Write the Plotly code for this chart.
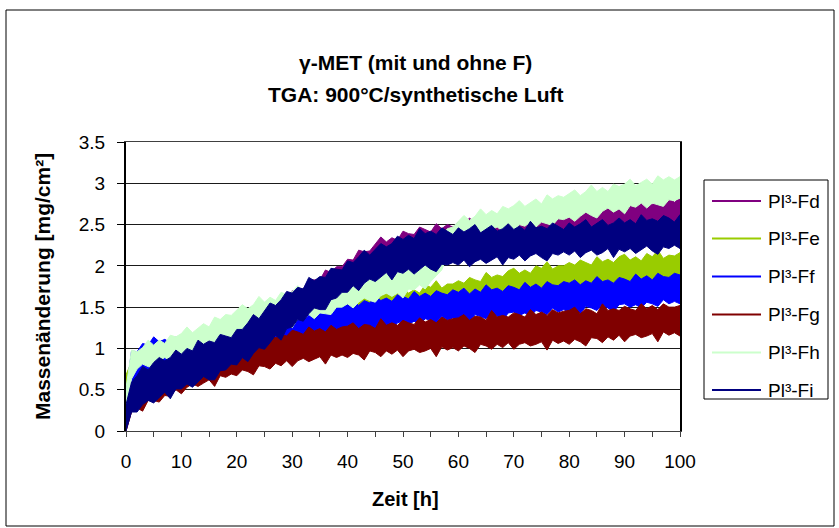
import plotly.graph_objects as go

# Time axis (hours) shared by all samples
TIME = list(range(0, 101))

SERIES = ["Pl³-Fd", "Pl³-Fe", "Pl³-Ff", "Pl³-Fg", "Pl³-Fh", "Pl³-Fi"]
COLORS = ["#800080", "#99CC00", "#0000FF", "#800000", "#CCFFCC", "#000080"]

Y_TICKS = [0, 0.5, 1, 1.5, 2, 2.5, 3, 3.5]
X_TICKS = [0, 10, 20, 30, 40, 50, 60, 70, 80, 90, 100]

# Lower / upper envelope of the noisy TGA signal, mass change in mg/cm², one value per hour
FD_LO = [0.00, 0.24, 0.31, 0.33, 0.38, 0.40, 0.44, 0.45, 0.50, 0.51, 0.56,
         0.57, 0.60, 0.63, 0.66, 0.67, 0.71, 0.73, 0.75, 0.79, 0.82,
         0.86, 0.91, 0.95, 1.00, 1.05, 1.10, 1.14, 1.20, 1.24, 1.30,
         1.33, 1.37, 1.42, 1.45, 1.50, 1.53, 1.58, 1.61, 1.66, 1.70,
         1.72, 1.76, 1.79, 1.82, 1.85, 1.88, 1.90, 1.94, 1.97, 2.00,
         2.01, 2.02, 2.04, 2.05, 2.06, 2.08, 2.09, 2.10, 2.11, 2.12,
         2.13, 2.14, 2.15, 2.16, 2.17, 2.18, 2.19, 2.20, 2.21, 2.22,
         2.23, 2.24, 2.25, 2.26, 2.27, 2.28, 2.29, 2.30, 2.31, 2.32,
         2.32, 2.33, 2.34, 2.35, 2.36, 2.37, 2.37, 2.38, 2.39, 2.40,
         2.41, 2.41, 2.42, 2.43, 2.44, 2.44, 2.45, 2.45, 2.46, 2.45]
FD_HI = [0.28, 0.58, 0.70, 0.69, 0.70, 0.79, 0.87, 0.82, 0.87, 0.84, 0.95,
         0.94, 0.94, 1.04, 1.03, 1.02, 1.13, 1.09, 1.15, 1.13, 1.21,
         1.21, 1.34, 1.32, 1.34, 1.44, 1.54, 1.51, 1.57, 1.57, 1.70,
         1.70, 1.72, 1.83, 1.83, 1.83, 1.95, 1.92, 1.99, 1.99, 2.08,
         2.07, 2.19, 2.17, 2.18, 2.27, 2.35, 2.29, 2.34, 2.31, 2.42,
         2.39, 2.38, 2.47, 2.44, 2.41, 2.51, 2.45, 2.50, 2.47, 2.53,
         2.49, 2.58, 2.52, 2.50, 2.56, 2.62, 2.55, 2.57, 2.53, 2.62,
         2.59, 2.58, 2.65, 2.62, 2.59, 2.69, 2.63, 2.66, 2.63, 2.69,
         2.65, 2.73, 2.68, 2.66, 2.72, 2.77, 2.70, 2.73, 2.68, 2.77,
         2.74, 2.72, 2.80, 2.77, 2.74, 2.83, 2.77, 2.81, 2.77, 2.83]

FE_LO = [0.30, 0.45, 0.46, 0.55, 0.55, 0.53, 0.61, 0.62, 0.61, 0.68, 0.66,
         0.64, 0.73, 0.74, 0.73, 0.80, 0.79, 0.78, 0.84, 0.87, 0.86,
         0.90, 0.88, 0.96, 0.95, 0.93, 1.01, 1.02, 1.01, 1.08, 1.06,
         1.04, 1.13, 1.14, 1.13, 1.20, 1.19, 1.18, 1.24, 1.27, 1.26,
         1.29, 1.26, 1.33, 1.31, 1.28, 1.35, 1.35, 1.33, 1.39, 1.36,
         1.33, 1.41, 1.41, 1.39, 1.45, 1.43, 1.41, 1.46, 1.48, 1.46,
         1.49, 1.46, 1.53, 1.51, 1.48, 1.55, 1.55, 1.53, 1.59, 1.56,
         1.53, 1.61, 1.61, 1.59, 1.65, 1.63, 1.61, 1.66, 1.68, 1.66,
         1.68, 1.65, 1.72, 1.69, 1.66, 1.73, 1.72, 1.70, 1.76, 1.72,
         1.69, 1.77, 1.76, 1.74, 1.80, 1.77, 1.75, 1.80, 1.81, 1.79]
FE_HI = [0.68, 0.84, 0.90, 0.87, 0.85, 0.97, 0.92, 0.96, 0.94, 1.02, 1.06,
         1.01, 1.06, 1.03, 1.13, 1.11, 1.20, 1.12, 1.17, 1.18, 1.23,
         1.21, 1.29, 1.27, 1.25, 1.37, 1.32, 1.36, 1.34, 1.42, 1.46,
         1.41, 1.46, 1.43, 1.53, 1.51, 1.60, 1.52, 1.56, 1.56, 1.60,
         1.57, 1.64, 1.61, 1.58, 1.69, 1.63, 1.66, 1.63, 1.70, 1.73,
         1.67, 1.71, 1.67, 1.77, 1.74, 1.82, 1.73, 1.78, 1.78, 1.82,
         1.79, 1.86, 1.83, 1.81, 1.92, 1.86, 1.89, 1.87, 1.94, 1.97,
         1.91, 1.95, 1.91, 2.00, 1.97, 2.05, 1.96, 2.00, 2.00, 2.04,
         2.01, 2.07, 2.04, 2.01, 2.11, 2.05, 2.08, 2.04, 2.11, 2.14,
         2.07, 2.11, 2.06, 2.15, 2.11, 2.19, 2.09, 2.13, 2.12, 2.16]

FF_LO = [0.10, 0.56, 0.56, 0.68, 0.69, 0.67, 0.76, 0.73, 0.70, 0.80, 0.83,
         0.79, 0.83, 0.79, 0.87, 0.85, 0.83, 0.91, 0.87, 0.90, 0.88,
         0.94, 0.89, 0.99, 0.99, 0.97, 1.06, 1.03, 1.00, 1.10, 1.13,
         1.09, 1.13, 1.09, 1.17, 1.15, 1.13, 1.21, 1.17, 1.20, 1.18,
         1.23, 1.17, 1.26, 1.25, 1.22, 1.30, 1.26, 1.22, 1.31, 1.33,
         1.29, 1.33, 1.28, 1.36, 1.34, 1.31, 1.39, 1.34, 1.37, 1.34,
         1.39, 1.32, 1.41, 1.39, 1.36, 1.43, 1.39, 1.34, 1.43, 1.44,
         1.40, 1.43, 1.39, 1.46, 1.44, 1.41, 1.49, 1.44, 1.47, 1.44,
         1.49, 1.42, 1.51, 1.49, 1.46, 1.53, 1.49, 1.44, 1.53, 1.54,
         1.50, 1.53, 1.49, 1.56, 1.54, 1.51, 1.59, 1.54, 1.57, 1.54]
FF_HI = [0.46, 0.97, 0.96, 1.06, 1.04, 1.14, 1.08, 1.11, 1.07, 1.14, 1.11,
         1.08, 1.17, 1.11, 1.15, 1.10, 1.18, 1.14, 1.13, 1.18, 1.16,
         1.22, 1.17, 1.24, 1.22, 1.32, 1.27, 1.31, 1.28, 1.37, 1.37,
         1.36, 1.46, 1.42, 1.47, 1.43, 1.52, 1.49, 1.49, 1.55, 1.53,
         1.58, 1.52, 1.58, 1.55, 1.64, 1.58, 1.61, 1.57, 1.65, 1.63,
         1.60, 1.69, 1.63, 1.67, 1.63, 1.70, 1.67, 1.65, 1.71, 1.68,
         1.73, 1.66, 1.72, 1.68, 1.77, 1.71, 1.73, 1.69, 1.76, 1.74,
         1.71, 1.80, 1.74, 1.78, 1.73, 1.81, 1.77, 1.76, 1.81, 1.79,
         1.83, 1.77, 1.82, 1.79, 1.87, 1.81, 1.83, 1.79, 1.86, 1.84,
         1.81, 1.90, 1.84, 1.88, 1.83, 1.91, 1.87, 1.86, 1.91, 1.89]

FG_LO = [0.00, 0.23, 0.28, 0.24, 0.37, 0.37, 0.35, 0.43, 0.42, 0.50, 0.45,
         0.53, 0.57, 0.54, 0.58, 0.62, 0.54, 0.67, 0.65, 0.69, 0.67,
         0.74, 0.72, 0.68, 0.79, 0.78, 0.75, 0.82, 0.79, 0.85, 0.78,
         0.85, 0.88, 0.84, 0.87, 0.90, 0.81, 0.92, 0.89, 0.92, 0.89,
         0.94, 0.92, 0.86, 0.97, 0.95, 0.90, 0.97, 0.93, 0.98, 0.90,
         0.97, 0.99, 0.95, 0.97, 1.00, 0.90, 1.02, 0.98, 1.01, 0.97,
         1.03, 1.00, 0.95, 1.05, 1.03, 0.99, 1.05, 1.01, 1.07, 0.99,
         1.05, 1.07, 1.03, 1.05, 1.08, 0.98, 1.10, 1.06, 1.09, 1.05,
         1.11, 1.08, 1.03, 1.13, 1.12, 1.07, 1.14, 1.10, 1.16, 1.08,
         1.15, 1.17, 1.13, 1.15, 1.18, 1.08, 1.20, 1.16, 1.19, 1.15]
FG_HI = [0.27, 0.56, 0.54, 0.63, 0.64, 0.63, 0.77, 0.72, 0.77, 0.77, 0.85,
         0.84, 0.83, 0.93, 0.89, 0.94, 0.91, 1.00, 0.97, 1.01, 1.03,
         1.09, 1.03, 1.10, 1.10, 1.07, 1.20, 1.13, 1.17, 1.15, 1.22,
         1.20, 1.17, 1.26, 1.21, 1.24, 1.20, 1.28, 1.23, 1.26, 1.27,
         1.31, 1.24, 1.29, 1.28, 1.24, 1.36, 1.28, 1.31, 1.28, 1.34,
         1.31, 1.29, 1.37, 1.32, 1.35, 1.31, 1.38, 1.34, 1.36, 1.37,
         1.41, 1.34, 1.39, 1.38, 1.34, 1.46, 1.38, 1.40, 1.38, 1.43,
         1.41, 1.38, 1.47, 1.41, 1.44, 1.40, 1.47, 1.43, 1.45, 1.46,
         1.50, 1.42, 1.48, 1.46, 1.42, 1.54, 1.46, 1.48, 1.46, 1.51,
         1.48, 1.46, 1.54, 1.48, 1.52, 1.47, 1.54, 1.50, 1.50, 1.52]

FH_LO = [0.25, 0.63, 0.75, 0.81, 0.78, 0.76, 0.85, 0.89, 0.85, 0.90, 0.85,
         0.96, 0.95, 1.01, 0.96, 1.03, 1.02, 1.01, 1.10, 1.10, 1.14,
         1.09, 1.16, 1.21, 1.18, 1.16, 1.25, 1.29, 1.25, 1.30, 1.25,
         1.36, 1.35, 1.41, 1.36, 1.43, 1.42, 1.41, 1.50, 1.50, 1.54,
         1.49, 1.56, 1.61, 1.58, 1.56, 1.64, 1.67, 1.63, 1.67, 1.61,
         1.72, 1.71, 1.77, 1.72, 1.81, 1.88, 1.95, 2.12, 2.20, 2.30,
         2.28, 2.37, 2.42, 2.38, 2.36, 2.44, 2.47, 2.42, 2.46, 2.40,
         2.50, 2.48, 2.53, 2.47, 2.53, 2.51, 2.49, 2.57, 2.56, 2.59,
         2.54, 2.60, 2.65, 2.61, 2.58, 2.66, 2.70, 2.65, 2.69, 2.63,
         2.73, 2.71, 2.76, 2.70, 2.76, 2.74, 2.72, 2.80, 2.79, 2.82]
FH_HI = [0.52, 0.98, 0.96, 1.01, 1.10, 1.04, 1.10, 1.06, 1.16, 1.14, 1.18,
         1.26, 1.19, 1.25, 1.30, 1.26, 1.38, 1.35, 1.41, 1.40, 1.46,
         1.53, 1.48, 1.53, 1.63, 1.56, 1.62, 1.58, 1.68, 1.65, 1.69,
         1.76, 1.69, 1.74, 1.79, 1.74, 1.85, 1.81, 1.86, 1.84, 1.89,
         1.95, 1.89, 1.94, 2.03, 1.96, 2.01, 1.96, 2.06, 2.02, 2.05,
         2.12, 2.05, 2.11, 2.16, 2.13, 2.31, 2.35, 2.45, 2.47, 2.54,
         2.61, 2.55, 2.60, 2.69, 2.62, 2.67, 2.63, 2.72, 2.69, 2.73,
         2.79, 2.72, 2.76, 2.81, 2.75, 2.86, 2.81, 2.85, 2.83, 2.87,
         2.92, 2.85, 2.90, 2.98, 2.90, 2.95, 2.90, 2.99, 2.96, 2.99,
         3.05, 2.97, 3.01, 3.05, 2.99, 3.09, 3.04, 3.08, 3.04, 3.08]

FI_LO = [0.00, 0.23, 0.23, 0.32, 0.37, 0.34, 0.40, 0.47, 0.39, 0.51, 0.51,
         0.57, 0.53, 0.60, 0.66, 0.62, 0.62, 0.73, 0.74, 0.81, 0.80,
         0.89, 0.84, 0.94, 1.01, 0.99, 1.07, 1.16, 1.10, 1.24, 1.26,
         1.35, 1.33, 1.42, 1.49, 1.47, 1.47, 1.59, 1.61, 1.68, 1.68,
         1.76, 1.70, 1.79, 1.84, 1.81, 1.86, 1.92, 1.83, 1.93, 1.91,
         1.96, 1.90, 1.96, 2.01, 1.96, 1.93, 2.02, 2.01, 2.04, 2.01,
         2.07, 1.99, 2.05, 2.08, 2.03, 2.07, 2.11, 2.01, 2.10, 2.08,
         2.13, 2.06, 2.12, 2.15, 2.10, 2.06, 2.15, 2.13, 2.17, 2.13,
         2.18, 2.10, 2.16, 2.19, 2.13, 2.16, 2.21, 2.10, 2.20, 2.17,
         2.21, 2.15, 2.20, 2.24, 2.18, 2.14, 2.23, 2.21, 2.25, 2.21]
FI_HI = [0.32, 0.59, 0.67, 0.78, 0.74, 0.83, 0.89, 0.85, 0.89, 0.98, 0.93,
         1.00, 0.97, 1.10, 1.05, 1.09, 1.07, 1.17, 1.15, 1.13, 1.23,
         1.23, 1.31, 1.41, 1.36, 1.46, 1.55, 1.52, 1.59, 1.69, 1.67,
         1.74, 1.72, 1.86, 1.82, 1.87, 1.86, 1.97, 1.96, 1.95, 2.06,
         2.04, 2.11, 2.19, 2.13, 2.20, 2.27, 2.23, 2.27, 2.36, 2.32,
         2.37, 2.33, 2.45, 2.39, 2.42, 2.38, 2.46, 2.42, 2.38, 2.46,
         2.41, 2.45, 2.50, 2.40, 2.45, 2.49, 2.42, 2.45, 2.51, 2.44,
         2.48, 2.43, 2.54, 2.46, 2.48, 2.45, 2.52, 2.48, 2.44, 2.52,
         2.47, 2.51, 2.56, 2.47, 2.51, 2.56, 2.49, 2.52, 2.58, 2.52,
         2.56, 2.51, 2.62, 2.55, 2.57, 2.54, 2.61, 2.58, 2.53, 2.62]

LOWER = [FD_LO, FE_LO, FF_LO, FG_LO, FH_LO, FI_LO]
UPPER = [FD_HI, FE_HI, FF_HI, FG_HI, FH_HI, FI_HI]

FONT = "Liberation Sans, Arial, sans-serif"

# Figure geometry in pixels
W, H = 839, 528
PL, PR, PT, PB = 126, 680, 142, 431


def fx(p):
    return (p - PL) / (PR - PL)


def fy(p):
    return (PB - p) / (PB - PT)


fig = go.Figure()

# Each measurement is drawn as the band its noisy signal fills
for name, color, lo, hi in zip(SERIES, COLORS, LOWER, UPPER):
    fig.add_trace(go.Scatter(
        x=TIME + TIME[::-1],
        y=hi + lo[::-1],
        mode="lines",
        fill="toself",
        fillcolor=color,
        line=dict(color=color, width=1),
        name=name,
        showlegend=False,
        hoverinfo="skip",
    ))

shapes = []
annotations = []

# outer chart frame
shapes.append(dict(type="rect", xref="paper", yref="paper",
                   x0=fx(6), x1=fx(834), y0=fy(526), y1=fy(10),
                   line=dict(color="#000000", width=1), fillcolor="rgba(0,0,0,0)",
                   layer="below"))

# legend box
shapes.append(dict(type="rect", xref="paper", yref="paper",
                   x0=fx(704), x1=fx(828), y0=fy(399), y1=fy(180),
                   line=dict(color="#000000", width=1), fillcolor="#FFFFFF"))
legend_rows = [201, 238.5, 276.5, 314.5, 352.5, 390]
for name, color, ry in zip(SERIES, COLORS, legend_rows):
    shapes.append(dict(type="line", xref="paper", yref="paper",
                       x0=fx(712), x1=fx(761), y0=fy(ry), y1=fy(ry),
                       line=dict(color=color, width=2)))
    annotations.append(dict(xref="paper", yref="paper", x=fx(766), y=fy(ry),
                            text=name, showarrow=False, xanchor="left", yanchor="middle",
                            font=dict(family=FONT, size=19, color="#000000")))

# chart title
annotations.append(dict(xref="paper", yref="paper", x=fx(415), y=fy(62),
                        text="<b>γ-MET (mit und ohne F)</b>", showarrow=False,
                        xanchor="center", yanchor="middle",
                        font=dict(family=FONT, size=21, color="#000000")))
annotations.append(dict(xref="paper", yref="paper", x=fx(415), y=fy(95),
                        text="<b>TGA: 900°C/synthetische Luft</b>", showarrow=False,
                        xanchor="center", yanchor="middle",
                        font=dict(family=FONT, size=21, color="#000000")))

# axis titles
annotations.append(dict(xref="paper", yref="paper", x=fx(405), y=fy(499),
                        text="<b>Zeit [h]</b>", showarrow=False,
                        xanchor="center", yanchor="middle",
                        font=dict(family=FONT, size=20, color="#000000")))
annotations.append(dict(xref="paper", yref="paper", x=fx(42), y=fy(287),
                        text="<b>Massenänderung [mg/cm²]</b>", showarrow=False,
                        textangle=-90, xanchor="center", yanchor="middle",
                        font=dict(family=FONT, size=21, color="#000000")))

fig.update_layout(
    width=W, height=H, autosize=False,
    margin=dict(l=PL, r=W - PR, t=PT, b=H - PB, pad=0),
    paper_bgcolor="#FFFFFF", plot_bgcolor="#FFFFFF",
    showlegend=False,
    shapes=shapes, annotations=annotations,
    font=dict(family=FONT, color="#000000"),
)

fig.update_xaxes(
    range=[0, 100], tickmode="array", tickvals=X_TICKS,
    ticktext=[str(v) for v in X_TICKS],
    ticks="outside", ticklen=5, tickwidth=1, tickcolor="#404040",
    minor=dict(tickmode="array", tickvals=[5, 15, 25, 35, 45, 55, 65, 75, 85, 95],
               ticks="outside", ticklen=5, tickwidth=1, tickcolor="#404040"),
    showline=True, linecolor="#404040", linewidth=1, mirror=True,
    showgrid=False, zeroline=False,
    tickfont=dict(family=FONT, size=19, color="#000000"),
    ticklabelstandoff=8,
)
fig.update_yaxes(
    range=[0, 3.5], tickmode="array", tickvals=Y_TICKS,
    ticktext=["0", "0.5", "1", "1.5", "2", "2.5", "3", "3.5"],
    ticks="outside", ticklen=7, tickwidth=1, tickcolor="#000000",
    showline=True, linecolor="#000000", linewidth=2, mirror=True,
    showgrid=True, gridcolor="#1A1A1A", gridwidth=1, zeroline=False,
    tickfont=dict(family=FONT, size=19, color="#000000"),
    ticklabelstandoff=8,
)

fig.write_html("out.html")
